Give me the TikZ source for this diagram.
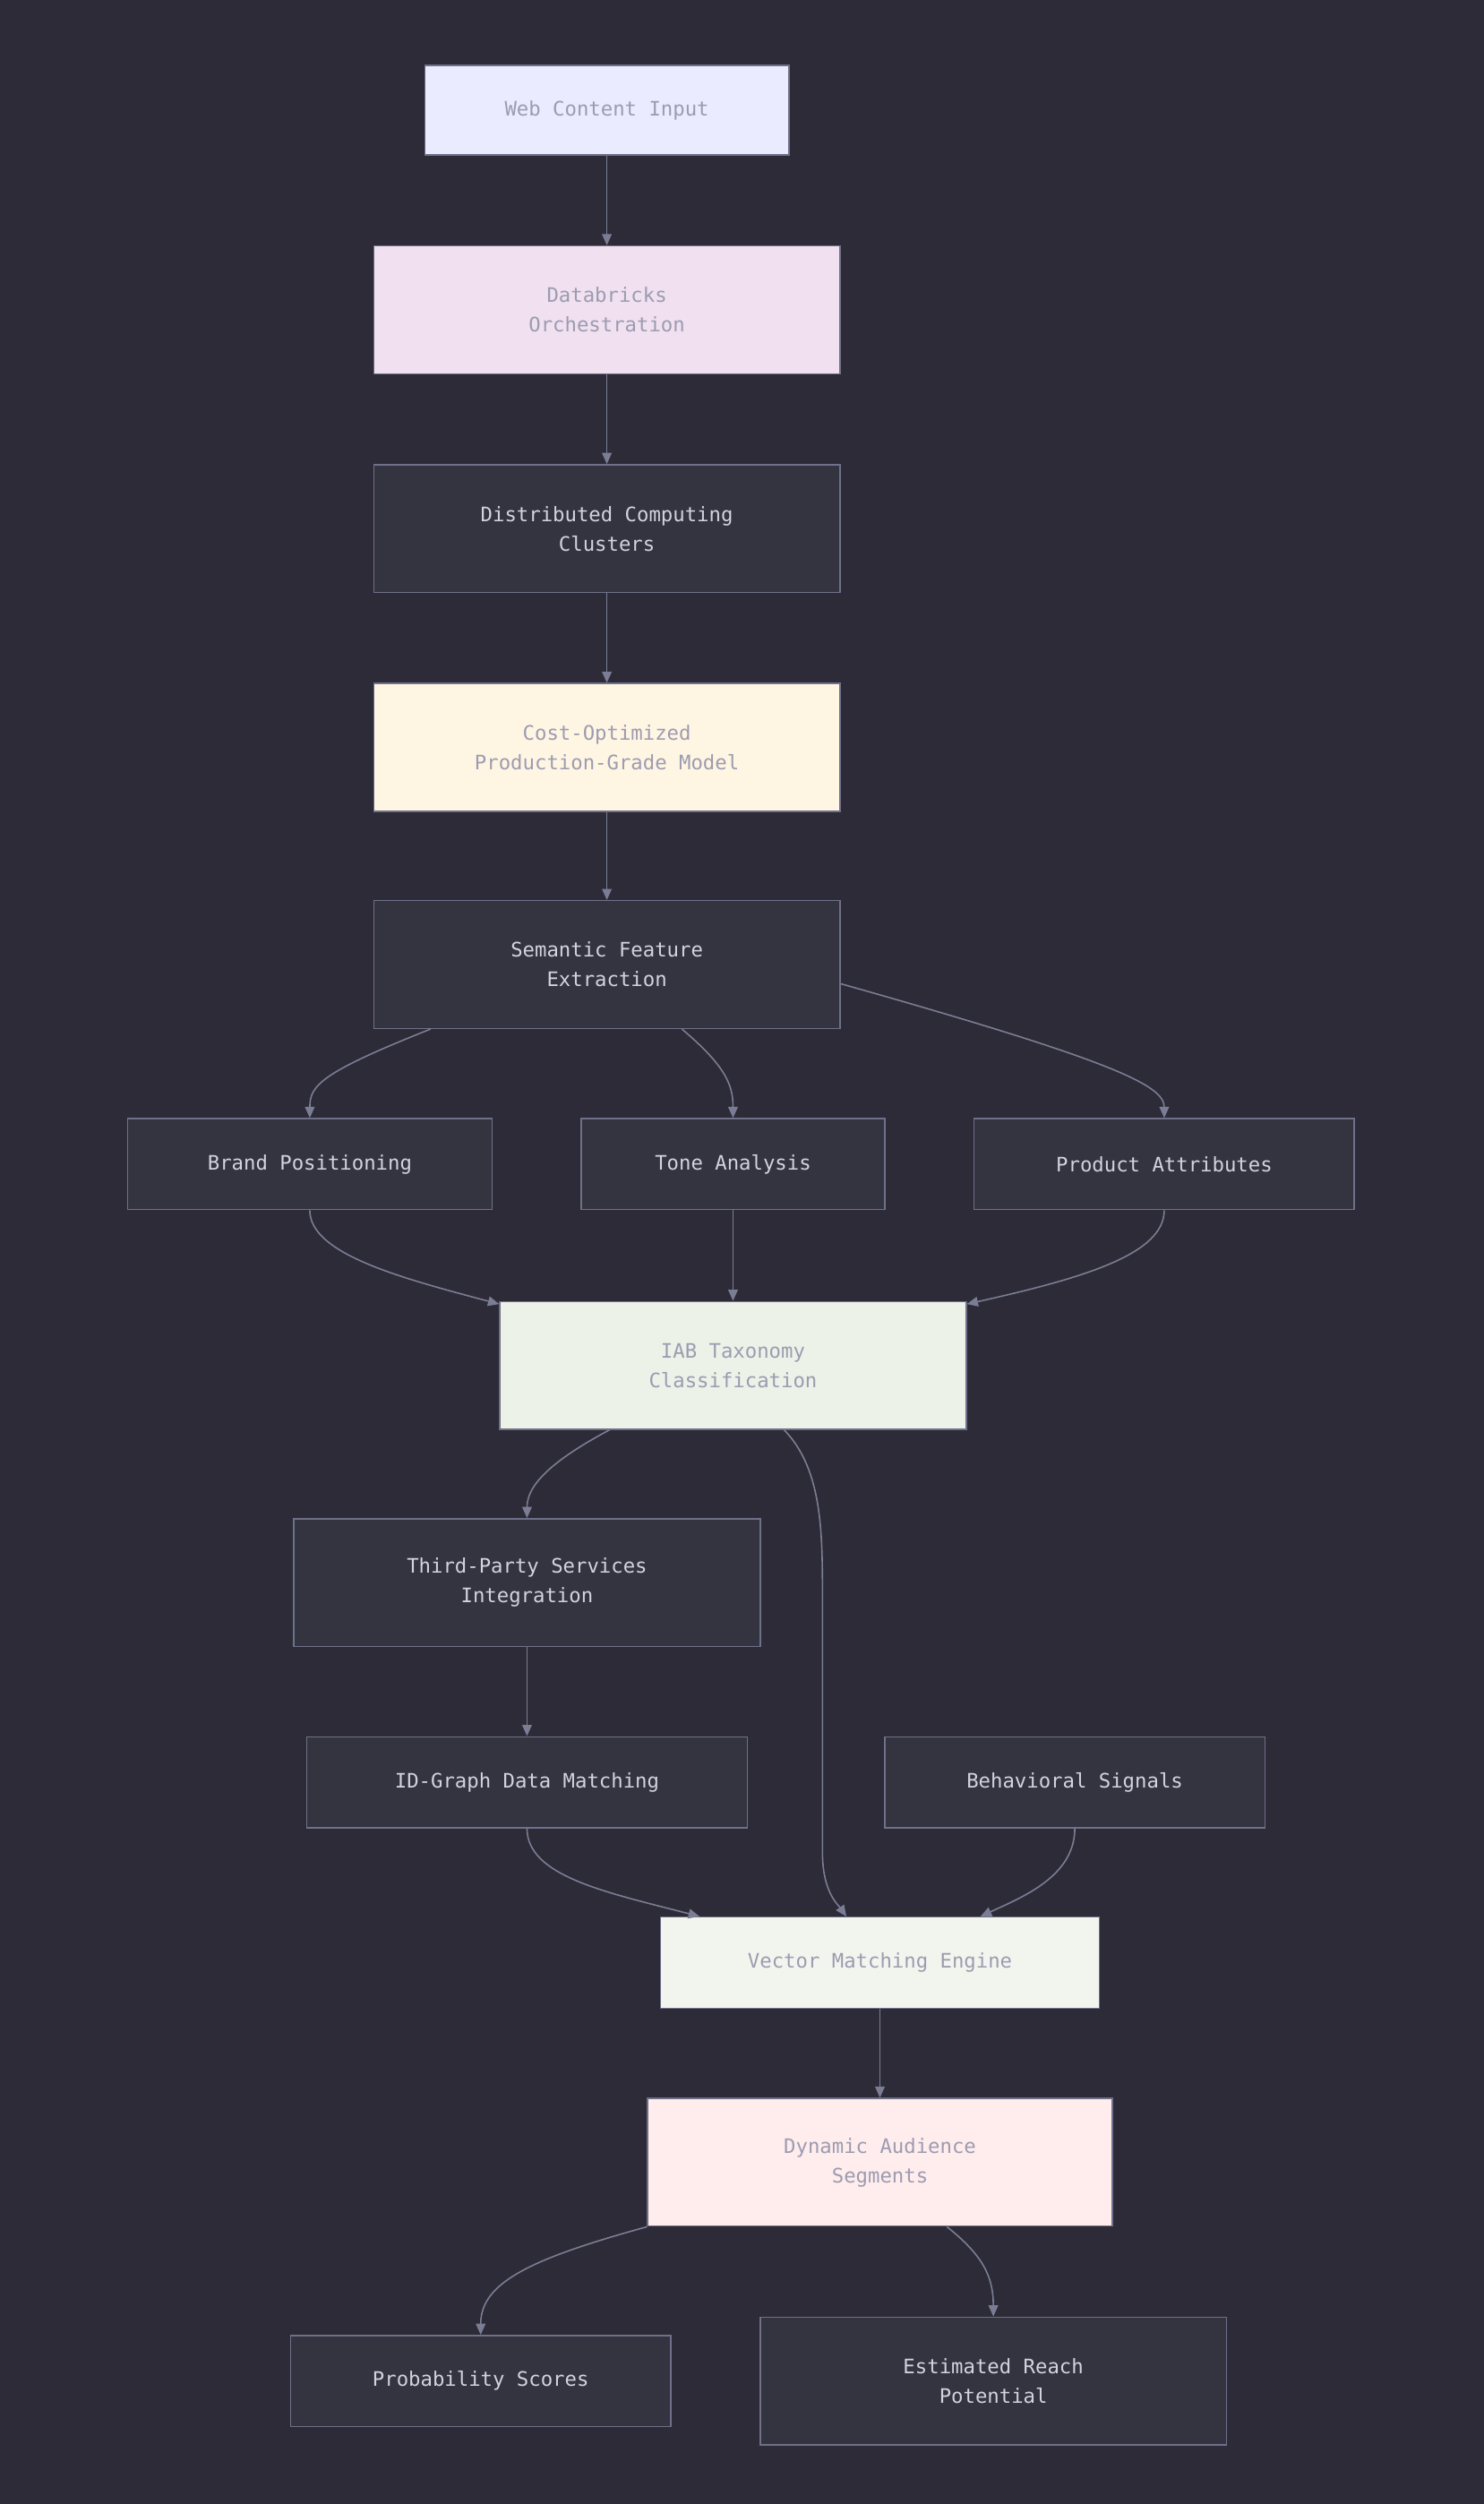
\documentclass[tikz,border=0pt]{standalone}
\usepackage{fontspec}
\setmonofont{DejaVu Sans Mono}
\usetikzlibrary{arrows.meta}
\definecolor{bg}{HTML}{2D2B37}
\definecolor{dk}{HTML}{333440}
\definecolor{bd}{HTML}{6E7189}
\definecolor{lt}{HTML}{D3D3DC}
\definecolor{gt}{HTML}{9C9CB0}
\definecolor{ln}{HTML}{7A7D94}
\begin{document}
\begin{tikzpicture}[x=1pt,y=-1pt,
 box/.style={draw=bd,line width=0.8pt,fill=dk,text=lt,font=\ttfamily\fontsize{12.5}{18.5}\selectfont,align=center,inner sep=0pt,minimum height=#1},
 box/.default=57,
 lbox/.style={box=#1,text=gt},
 e/.style={draw=ln,line width=0.9pt,-{Triangle[length=7pt,width=6pt]}}]
\useasboundingbox[fill=bg] (0,0) rectangle (929,1568);
\node[lbox=56,fill=blue!8,minimum width=228] (web) at (380,69) {Web Content Input};
\node[lbox=80,fill=violet!12,minimum width=292] (db) at (380,194) {Databricks\\Orchestration};
\node[box=80,minimum width=292] (dc) at (380,331) {Distributed Computing\\Clusters};
\node[lbox=80,fill={rgb,255:red,255;green,245;blue,227},minimum width=292] (co) at (380,468) {Cost-Optimized\\Production-Grade Model};
\node[box=80,minimum width=292] (se) at (380,604) {Semantic Feature\\Extraction};
\node[box,minimum width=228] (br) at (194,729) {Brand Positioning};
\node[box,minimum width=190] (to) at (459,729) {Tone Analysis};
\node[box,minimum width=238] (pr) at (729,729) {Product Attributes};
\node[lbox=80,fill={rgb,255:red,236;green,242;blue,232},minimum width=292] (iab) at (459,855) {IAB Taxonomy\\Classification};
\node[box=80,minimum width=292] (th) at (330,991) {Third-Party Services\\Integration};
\node[box,minimum width=276] (id) at (330,1116) {ID-Graph Data Matching};
\node[box,minimum width=238] (be) at (673,1116) {Behavioral Signals};
\node[lbox=57,fill={rgb,255:red,242;green,245;blue,238},minimum width=275] (ve) at (551,1229) {Vector Matching Engine};
\node[lbox=80,fill={rgb,255:red,255;green,236;blue,237},minimum width=291] (dy) at (551,1354) {Dynamic Audience\\Segments};
\node[box,minimum width=238] (pb) at (301,1491) {Probability Scores};
\node[box=80,minimum width=292] (re) at (622,1491) {Estimated Reach\\Potential};
\path[e] (web) -- (db);
\path[e] (db) -- (dc);
\path[e] (dc) -- (co);
\path[e] (co) -- (se);
\path[e] ([xshift=36]se.south west) .. controls (200,672) and (194,680) .. (br.north);
\path[e] ([xshift=47]se.south) .. controls (455,668) and (459,680) .. (to.north);
\path[e] ([yshift=-12]se.east) .. controls (700,665) and (729,680) .. (pr.north);
\path[e] (br.south) .. controls (194,785) and (250,800) .. ([yshift=-2]iab.north west);
\path[e] (to) -- (iab);
\path[e] (pr.south) .. controls (729,785) and (680,800) .. ([yshift=-2]iab.north east);
\path[e] ([xshift=69]iab.south west) .. controls (345,915) and (330,930) .. (th.north);
\path[e] ([xshift=32]iab.south) .. controls (515,920) and (515,960) .. (515,1000) -- (515,1160) .. controls (515,1185) and (525,1193) .. ([xshift=-21]ve.north);
\path[e] (th) -- (id);
\path[e] (id.south) .. controls (330,1175) and (380,1185) .. ([xshift=25]ve.north west);
\path[e] (be.south) .. controls (673,1175) and (640,1188) .. ([xshift=-75]ve.north east);
\path[e] (ve) -- (dy);
\path[e] (dy.south west) .. controls (330,1415) and (301,1430) .. (pb.north);
\path[e] ([xshift=42]dy.south) .. controls (615,1412) and (622,1425) .. (re.north);
\end{tikzpicture}
\end{document}
